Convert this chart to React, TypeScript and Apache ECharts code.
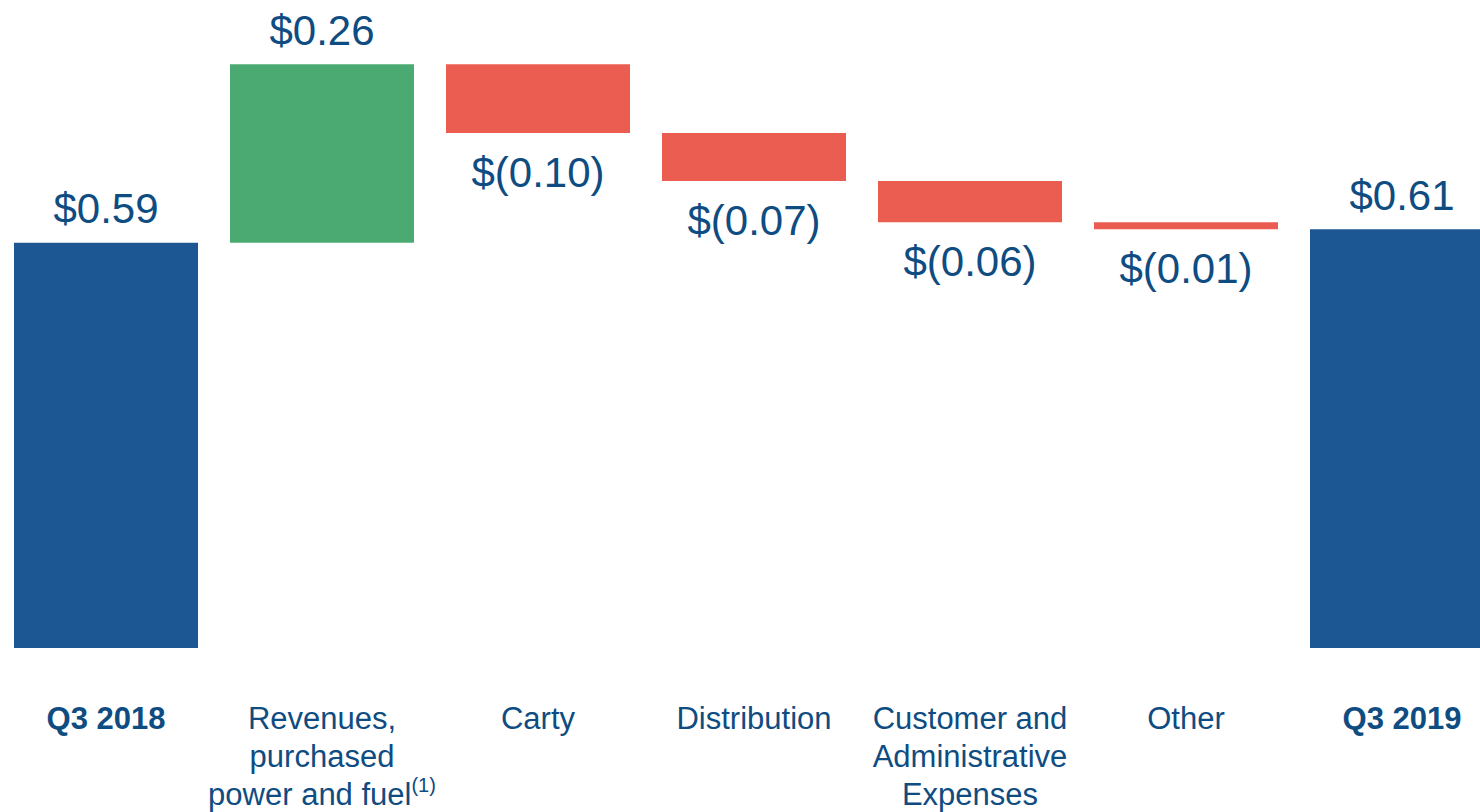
import React, { useEffect, useRef } from "react";
import * as echarts from "echarts";

const categories = [
  "Q3 2018",
  "Revenues,\npurchased\npower and fuel",
  "Carty",
  "Distribution",
  "Customer and\nAdministrative\nExpenses",
  "Other",
  "Q3 2019",
];
const footnotes = ["", "(1)", "", "", "", "", ""];
const isTotal = [true, false, false, false, false, false, true];
const values = [0.59, 0.26, -0.1, -0.07, -0.06, -0.01, 0.61];

const BLUE = "#1C5794";
const GREEN = "#4AAA71";
const RED = "#EA5D50";
const TEXT = "#0E4C81";
const FONT = "'Liberation Sans', Arial, sans-serif";

function fmt(v: number) {
  return v >= 0 ? `$${v.toFixed(2)}` : `$(${(-v).toFixed(2)})`;
}

export default function App() {
  const ref = useRef<HTMLDivElement>(null);
  useEffect(() => {
    if (!ref.current) return;
    const chart = echarts.init(ref.current, null, { renderer: "svg" });

    const base: number[] = [];
    const heights: any[] = [];
    let running = 0;
    values.forEach((v, i) => {
      if (isTotal[i]) {
        base.push(0);
        running = v;
        heights.push({
          value: v,
          itemStyle: { color: BLUE },
          label: { position: "top", distance: 13 },
        });
      } else {
        const next = +(running + v).toFixed(4);
        base.push(Math.min(running, next));
        heights.push({
          value: Math.abs(v),
          itemStyle: { color: v >= 0 ? GREEN : RED },
          label: v >= 0 ? { position: "top", distance: 13 } : { position: "bottom", distance: 18 },
        });
        running = next;
      }
    });

    chart.setOption({
      animation: false,
      grid: { left: 0, right: 0, top: 30, bottom: 164, containLabel: false },
      xAxis: {
        type: "category",
        data: categories,
        axisLine: { show: false },
        axisTick: { show: false },
        axisLabel: {
          interval: 0,
          margin: 51,
          formatter: (name: string) => {
            const i = categories.indexOf(name);
            const style = isTotal[i] ? "b" : "n";
            const sup = footnotes[i] ? `{sup|${footnotes[i]}}` : "";
            return `{${style}|${name}}${sup}`;
          },
          rich: {
            n: { fontSize: 31, lineHeight: 38, color: TEXT, fontFamily: FONT },
            b: { fontSize: 31, lineHeight: 38, color: TEXT, fontFamily: FONT, fontWeight: "bold" },
            sup: { fontSize: 20, lineHeight: 20, color: TEXT, fontFamily: FONT, verticalAlign: "top" },
          },
        },
      },
      yAxis: { type: "value", min: 0, max: 0.9, show: false, splitLine: { show: false } },
      series: [
        {
          type: "bar",
          stack: "wf",
          data: base,
          barWidth: 184,
          itemStyle: { color: "transparent" },
          emphasis: { disabled: true },
          silent: true,
        },
        {
          type: "bar",
          stack: "wf",
          data: heights,
          barWidth: 184,
          label: {
            show: true,
            fontSize: 42,
            color: TEXT,
            fontFamily: FONT,
            formatter: (p: any) => fmt(values[p.dataIndex]),
          },
        },
      ],
    });
    return () => chart.dispose();
  }, []);
  return (
    <div
      style={{
        position: "fixed",
        left: 0,
        top: 0,
        width: 1480,
        height: 812,
        overflow: "hidden",
        background: "#fff",
      }}
    >
      <div ref={ref} style={{ position: "absolute", left: -2, top: 0, width: 1512, height: 812 }} />
    </div>
  );
}
